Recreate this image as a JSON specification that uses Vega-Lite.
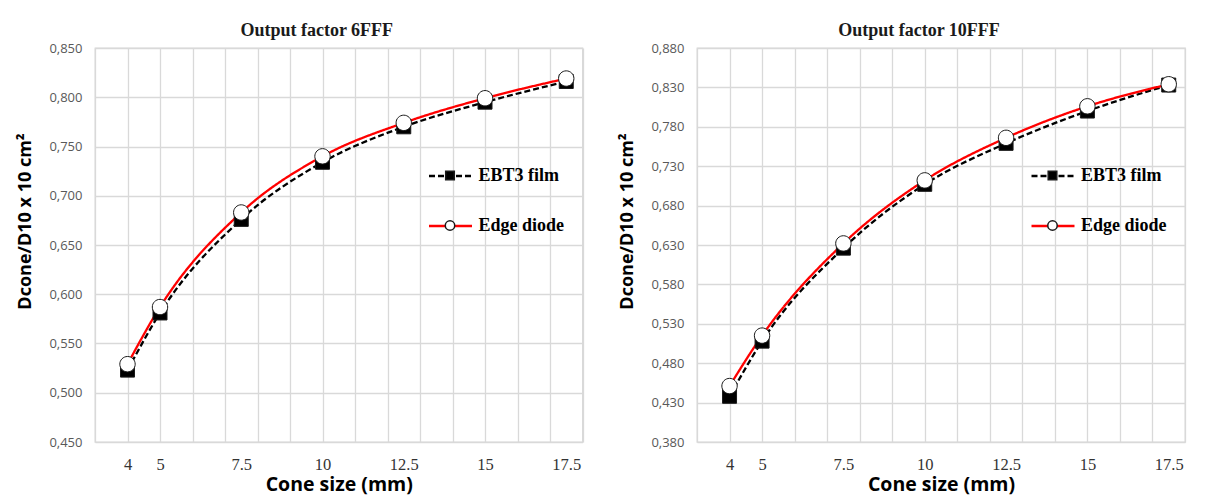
{
  "$schema": "https://vega.github.io/schema/vega-lite/v6.json",
  "background": "white",
  "padding": {"left": 15, "top": 21, "right": 5, "bottom": 5},
  "bounds": "flush",
  "spacing": 114,
  "config": {
    "view": {"stroke": "#d9d9d9", "strokeWidth": 1.3},
    "axis": {"gridColor": "#d9d9d9", "gridWidth": 1.3, "domain": false, "ticks": false},
    "title": {"font": "Liberation Serif", "fontSize": 18, "fontWeight": "bold", "color": "#1a1a1a", "anchor": "middle", "dx": -22, "offset": 2}
  },
  "datasets": {
    "d6": [
      {"series": "EBT3 film", "size": 4, "value": 0.523},
      {"series": "EBT3 film", "size": 5, "value": 0.581},
      {"series": "EBT3 film", "size": 7.5, "value": 0.676},
      {"series": "EBT3 film", "size": 10, "value": 0.734},
      {"series": "EBT3 film", "size": 12.5, "value": 0.770},
      {"series": "EBT3 film", "size": 15, "value": 0.795},
      {"series": "EBT3 film", "size": 17.5, "value": 0.816},
      {"series": "Edge diode", "size": 4, "value": 0.529},
      {"series": "Edge diode", "size": 5, "value": 0.587},
      {"series": "Edge diode", "size": 7.5, "value": 0.683},
      {"series": "Edge diode", "size": 10, "value": 0.740},
      {"series": "Edge diode", "size": 12.5, "value": 0.774},
      {"series": "Edge diode", "size": 15, "value": 0.799},
      {"series": "Edge diode", "size": 17.5, "value": 0.819}
    ],
    "d10": [
      {"series": "EBT3 film", "size": 4, "value": 0.438},
      {"series": "EBT3 film", "size": 5, "value": 0.508},
      {"series": "EBT3 film", "size": 7.5, "value": 0.626},
      {"series": "EBT3 film", "size": 10, "value": 0.707},
      {"series": "EBT3 film", "size": 12.5, "value": 0.759},
      {"series": "EBT3 film", "size": 15, "value": 0.800},
      {"series": "EBT3 film", "size": 17.5, "value": 0.833},
      {"series": "Edge diode", "size": 4, "value": 0.451},
      {"series": "Edge diode", "size": 5, "value": 0.515},
      {"series": "Edge diode", "size": 7.5, "value": 0.632},
      {"series": "Edge diode", "size": 10, "value": 0.712},
      {"series": "Edge diode", "size": 12.5, "value": 0.766},
      {"series": "Edge diode", "size": 15, "value": 0.806},
      {"series": "Edge diode", "size": 17.5, "value": 0.834}
    ]
  },
  "resolve": {
    "scale": {"color": "independent", "strokeDash": "independent", "shape": "independent", "fill": "independent"},
    "legend": {"color": "independent", "strokeDash": "independent", "shape": "independent", "fill": "independent"}
  },
  "hconcat": [
    {
      "width": 487.5,
      "height": 394,
      "title": {"text": "Output factor 6FFF"},
      "data": {"name": "d6"},
      "resolve": {"axis": {"x": "independent"}},
      "encoding": {
        "y": {"field": "value", "type": "quantitative",
          "scale": {"domain": [0.45, 0.85], "nice": false, "zero": false},
          "axis": {"values": [0.45, 0.5, 0.55, 0.6, 0.65, 0.7, 0.75, 0.8, 0.85],
            "labelExpr": "replace(format(datum.value, '.3f'), '.', ',')",
            "labelFont": "Open Sans", "labelFontSize": 13, "labelColor": "#595959", "labelPadding": 13,
            "title": "Dcone/D10 x 10 cm²", "titleFont": "Open Sans", "titleFontSize": 18, "titleFontWeight": "bold", "titleColor": "#000000",
            "titleX": -69.5, "titleY": 173, "titleAngle": -90, "titleAlign": "center", "titleBaseline": "middle"}}
      },
      "layer": [
        {
          "mark": {"type": "line", "interpolate": "monotone", "strokeWidth": 2.3},
          "encoding": {
            "x": {"field": "size", "type": "quantitative", "scale": {"domain": [3, 18], "nice": false},
              "axis": {"orient": "bottom", "values": [4, 5, 7.5, 10, 12.5, 15, 17.5], "labelExpr": "'' + datum.value", "grid": false,
                "labelFont": "Liberation Serif", "labelFontSize": 16.5, "labelColor": "#333333", "labelPadding": 14,
                "labelFlush": false, "labelOverlap": false,
                "title": "Cone size (mm)", "titleFont": "Open Sans", "titleFontSize": 19.5, "titleFontWeight": "bold", "titleColor": "#000000", "titlePadding": 3}},
            "color": {"field": "series", "type": "nominal", "scale": {"range": ["#000000", "#ff0000"]},
              "legend": {"orient": "none", "legendX": 332.5, "legendY": 105, "title": null, "padding": 0,
                "symbolType": "stroke", "symbolSize": 1849, "symbolStrokeWidth": 2.3,
                "labelFont": "Liberation Serif", "labelFontSize": 18, "labelFontWeight": "bold", "labelColor": "#000000",
                "labelOffset": 5, "rowPadding": 18}},
            "strokeDash": {"field": "series", "type": "nominal", "scale": {"range": [[6, 3], [1, 0]]}}
          }
        },
        {
          "mark": {"type": "point", "filled": true, "stroke": "#1a1a1a", "strokeWidth": 1, "opacity": 1, "size": 4900},
          "encoding": {
            "x": {"field": "size", "type": "quantitative",
              "axis": {"orient": "bottom", "values": [3, 4, 5, 6, 7, 8, 9, 10, 11, 12, 13, 14, 15, 16, 17, 18], "grid": true,
                "labels": false, "ticks": false, "domain": false, "title": null}},
            "shape": {"field": "series", "type": "nominal",
              "scale": {"domain": ["EBT3 film", "Edge diode"], "range": ["M-0.2,-0.2H0.2V0.2H-0.2Z", "M-0.22,0A0.22,0.22 0 1,0 0.22,0A0.22,0.22 0 1,0 -0.22,0Z"]},
              "legend": {"orient": "none", "legendX": 332.5, "legendY": 105, "title": null, "padding": 0,
                "symbolSize": 1849,
                "labelFont": "Liberation Serif", "labelFontSize": 18, "labelFontWeight": "bold", "labelOpacity": 0,
                "labelOffset": 5, "rowPadding": 18,
                "encode": {"symbols": {"stroke": {"value": "#1a1a1a"}, "strokeWidth": {"value": 1.2}, "strokeOpacity": {"value": 1}}}}},
            "fill": {"field": "series", "type": "nominal",
              "scale": {"domain": ["EBT3 film", "Edge diode"], "range": ["#000000", "#ffffff"]}}
          }
        }
      ]
    },
    {
      "width": 488,
      "height": 394,
      "title": {"text": "Output factor 10FFF"},
      "data": {"name": "d10"},
      "resolve": {"axis": {"x": "independent"}},
      "encoding": {
        "y": {"field": "value", "type": "quantitative",
          "scale": {"domain": [0.38, 0.88], "nice": false, "zero": false},
          "axis": {"values": [0.38, 0.43, 0.48, 0.53, 0.58, 0.63, 0.68, 0.73, 0.78, 0.83, 0.88],
            "labelExpr": "replace(format(datum.value, '.3f'), '.', ',')",
            "labelFont": "Open Sans", "labelFontSize": 13, "labelColor": "#595959", "labelPadding": 13,
            "title": "Dcone/D10 x 10 cm²", "titleFont": "Open Sans", "titleFontSize": 18, "titleFontWeight": "bold", "titleColor": "#000000",
            "titleX": -69.5, "titleY": 173, "titleAngle": -90, "titleAlign": "center", "titleBaseline": "middle"}}
      },
      "layer": [
        {
          "mark": {"type": "line", "interpolate": "monotone", "strokeWidth": 2.3},
          "encoding": {
            "x": {"field": "size", "type": "quantitative", "scale": {"domain": [3, 18], "nice": false},
              "axis": {"orient": "bottom", "values": [4, 5, 7.5, 10, 12.5, 15, 17.5], "labelExpr": "'' + datum.value", "grid": false,
                "labelFont": "Liberation Serif", "labelFontSize": 16.5, "labelColor": "#333333", "labelPadding": 14,
                "labelFlush": false, "labelOverlap": false,
                "title": "Cone size (mm)", "titleFont": "Open Sans", "titleFontSize": 19.5, "titleFontWeight": "bold", "titleColor": "#000000", "titlePadding": 3}},
            "color": {"field": "series", "type": "nominal", "scale": {"range": ["#000000", "#ff0000"]},
              "legend": {"orient": "none", "legendX": 333, "legendY": 105, "title": null, "padding": 0,
                "symbolType": "stroke", "symbolSize": 1849, "symbolStrokeWidth": 2.3,
                "labelFont": "Liberation Serif", "labelFontSize": 18, "labelFontWeight": "bold", "labelColor": "#000000",
                "labelOffset": 5, "rowPadding": 18}},
            "strokeDash": {"field": "series", "type": "nominal", "scale": {"range": [[6, 3], [1, 0]]}}
          }
        },
        {
          "mark": {"type": "point", "filled": true, "stroke": "#1a1a1a", "strokeWidth": 1, "opacity": 1, "size": 4900},
          "encoding": {
            "x": {"field": "size", "type": "quantitative",
              "axis": {"orient": "bottom", "values": [3, 4, 5, 6, 7, 8, 9, 10, 11, 12, 13, 14, 15, 16, 17, 18], "grid": true,
                "labels": false, "ticks": false, "domain": false, "title": null}},
            "shape": {"field": "series", "type": "nominal",
              "scale": {"domain": ["EBT3 film", "Edge diode"], "range": ["M-0.2,-0.2H0.2V0.2H-0.2Z", "M-0.22,0A0.22,0.22 0 1,0 0.22,0A0.22,0.22 0 1,0 -0.22,0Z"]},
              "legend": {"orient": "none", "legendX": 333, "legendY": 105, "title": null, "padding": 0,
                "symbolSize": 1849,
                "labelFont": "Liberation Serif", "labelFontSize": 18, "labelFontWeight": "bold", "labelOpacity": 0,
                "labelOffset": 5, "rowPadding": 18,
                "encode": {"symbols": {"stroke": {"value": "#1a1a1a"}, "strokeWidth": {"value": 1.2}, "strokeOpacity": {"value": 1}}}}},
            "fill": {"field": "series", "type": "nominal",
              "scale": {"domain": ["EBT3 film", "Edge diode"], "range": ["#000000", "#ffffff"]}}
          }
        }
      ]
    }
  ]
}
